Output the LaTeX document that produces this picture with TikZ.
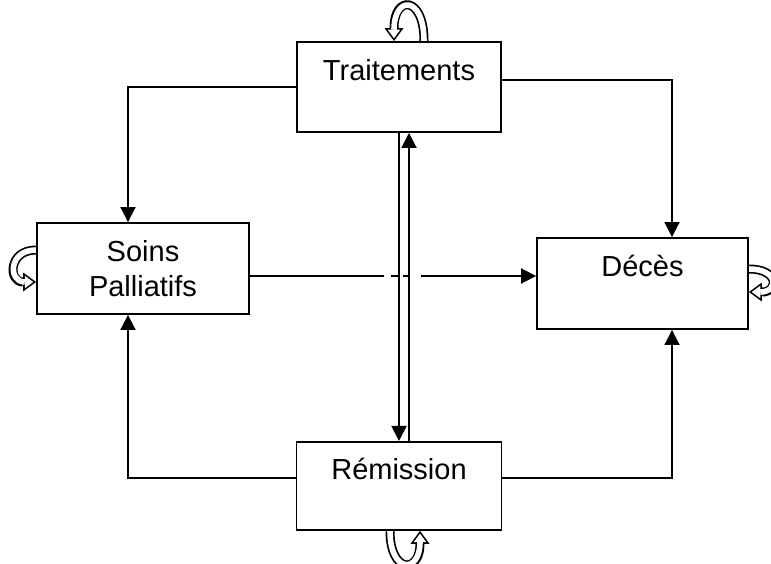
\documentclass[tikz,border=0pt]{standalone}
\usepackage{fontspec}
\setmainfont{Liberation Sans}
\usetikzlibrary{positioning,arrows.meta,backgrounds}

\tikzset{
  state/.style={draw, rectangle, minimum width=208pt, minimum height=90pt, align=center, font=\fontsize{29}{35}\selectfont},
  hollowout/.style={line width=9pt, -{Triangle[length=13pt,width=19pt,line width=0pt]}},
  hollowin/.style={white, line width=5.6pt, shorten >=2.8pt, -{Triangle[length=8.5pt,width=12.5pt,line width=0pt]}}
}
% hollow self-loop: black band, then white inside
\newcommand{\cyclearrow}[1]{%
  \draw[hollowout] #1;
  \draw[hollowin] #1;}

\begin{document}
\begin{tikzpicture}[x=1pt, y=-1pt, line width=1.9pt, >={Triangle[length=15pt,width=15pt]}]
  \useasboundingbox (0,0) rectangle (771,564);

  \node [state, minimum width=204pt] (trait) at (399,87) {Traitements\\\mbox{}};
  \node [state, minimum width=205pt, minimum height=88pt, below=308pt of trait] (remis) {Rémission\\\mbox{}};
  \node [state, minimum width=212pt, minimum height=91pt] (soins) at (143,268.5) {Soins\\Palliatifs};
  \node [state, minimum width=211pt, minimum height=91pt] (deces) at (642.5,283.5) {Décès\\\mbox{}};

  \draw [->] (trait.west) -| ([xshift=-15pt]soins.north);
  \draw [->] ([yshift=7pt]trait.east) -| ([xshift=29.5pt]deces.north);
  \draw [->, dash pattern=on 134pt off 7pt on 7pt off 5pt on 5pt off 13pt on 200pt] ([yshift=-7.5pt]soins.east) -- ([yshift=7.5pt]deces.west);
  \draw [->] ([yshift=8pt]remis.west) -| ([xshift=-15pt]soins.south);
  \draw [->] ([yshift=8pt]remis.east) -| ([xshift=29.5pt]deces.south);
  \draw [->] (trait.south) -- (remis.north);
  \draw [->] ([xshift=10pt]remis.north) -- ([xshift=10pt]trait.south);

  % self loops
  \begin{scope}[on background layer]
    \cyclearrow{([xshift=25pt]trait.north) .. controls +(0pt,46pt) and +(0pt,46pt) .. ([xshift=-5pt]trait.north)}
    \cyclearrow{([yshift=18.5pt]soins.west) .. controls +(-28pt,0pt) and +(-28pt,0pt) .. ([yshift=-13.5pt]soins.west)}
    \cyclearrow{([yshift=14.5pt]deces.east) .. controls +(30pt,0pt) and +(30pt,0pt) .. ([yshift=-8.5pt]deces.east)}
    \cyclearrow{([xshift=-9pt]remis.south) .. controls +(0pt,-43pt) and +(0pt,-43pt) .. ([xshift=21pt]remis.south)}
  \end{scope}
\end{tikzpicture}
\end{document}
